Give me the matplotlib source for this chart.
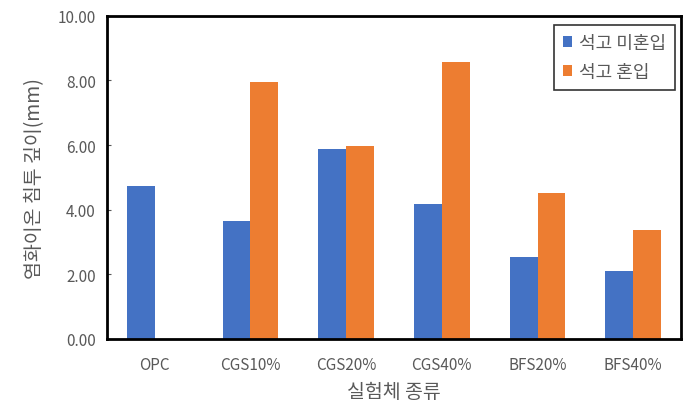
import numpy as np
import matplotlib
matplotlib.use("Agg")
import matplotlib.pyplot as plt

plt.rcParams['font.family'] = ['Noto Sans CJK KR', 'DejaVu Sans']

categories = ["OPC", "CGS10%", "CGS20%", "CGS40%", "BFS20%", "BFS40%"]
no_gypsum = [4.72, 3.66, 5.87, 4.19, 2.55, 2.11]
with_gypsum = [0.0, 7.95, 5.97, 8.58, 4.53, 3.37]
series_names = ["석고 미혼입", "석고 혼입"]

gray = "#595959"
x = np.arange(len(categories))
w = 0.29

fig = plt.figure(figsize=(6.9, 4.1), dpi=100)
ax = fig.add_axes([0.155, 0.171, 0.832, 0.788])

ax.bar(x - w / 2, no_gypsum, w, color="#4472C4", label=series_names[0])
ax.bar(x + w / 2, with_gypsum, w, color="#ED7D31", label=series_names[1])

ax.set_xlim(-0.5, len(categories) - 0.5)
ax.set_ylim(0, 10)
ax.set_yticks(np.arange(0, 10.01, 2))
ax.set_yticklabels([f"{v:.2f}" for v in np.arange(0, 10.01, 2)])
ax.set_xticks(x)
ax.set_xticklabels(categories)
ax.tick_params(axis="y", direction="in", length=3, colors=gray, labelsize=11, pad=8)
ax.tick_params(axis="x", length=0, colors=gray, labelsize=11, pad=12)
for lbl in ax.get_yticklabels() + ax.get_xticklabels():
    lbl.set_color(gray)

for s in ax.spines.values():
    s.set_linewidth(2)
    s.set_color("black")

ax.set_xlabel("실험체 종류", color=gray, fontsize=14, labelpad=6)
ax.set_ylabel("염화이온 침투 깊이(mm)", color=gray, fontsize=14, labelpad=9)

leg = ax.legend(loc="upper right", bbox_to_anchor=(0.99, 0.972), borderaxespad=0,
                fontsize=13, frameon=True, fancybox=False, handlelength=0.5,
                handleheight=0.6, handletextpad=0.4, borderpad=0.5, labelspacing=0.6)
leg.get_frame().set_edgecolor("black")
leg.get_frame().set_linewidth(1.2)
for t in leg.get_texts():
    t.set_color(gray)

fig.savefig("out.png", dpi=100)
